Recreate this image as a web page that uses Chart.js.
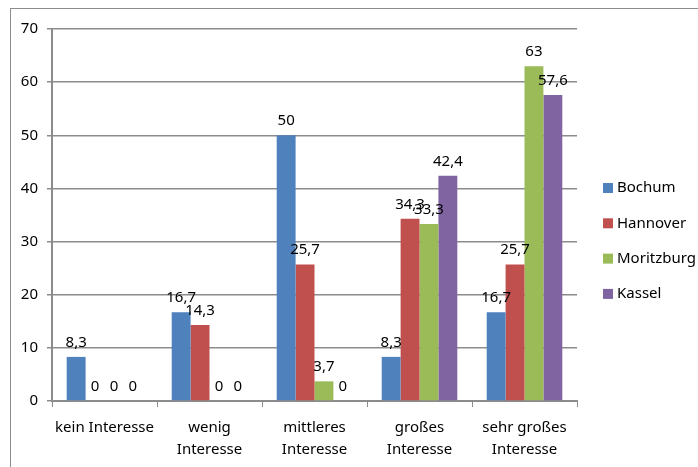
<!DOCTYPE html>
<html>
<head>
<meta charset="utf-8">
<script src="https://cdn.jsdelivr.net/npm/chart.js@4.4.0/dist/chart.umd.min.js"></script>
<style>
  html, body { margin: 0; padding: 0; background: #fff; }
  #wrap { position: relative; width: 698px; height: 467px; overflow: hidden; }
  #frame { position: absolute; left: 10px; top: 8px; width: 800px; height: 600px; border: 1px solid #8c8c8c; }
  #chart { position: absolute; left: 0; top: 0; }
</style>
</head>
<body>
<div id="wrap">
  <div id="frame"></div>
  <canvas id="chart" width="698" height="467"></canvas>
</div>
<script>
const categories = [
  "kein Interesse",
  ["wenig", "Interesse"],
  ["mittleres", "Interesse"],
  ["großes", "Interesse"],
  ["sehr großes", "Interesse"],
];
const bochum = [8.3, 16.7, 50, 8.3, 16.7];
const hannover = [0, 14.3, 25.7, 34.3, 25.7];
const moritzburg = [0, 0, 3.7, 33.3, 63];
const kassel = [0, 0, 0, 42.4, 57.6];
const yTicks = [0, 10, 20, 30, 40, 50, 60, 70];

const FONT = "'Noto Sans', sans-serif";
const gridColor = "#8c8c8c";

// value labels above each bar, German decimal comma
const valueLabels = {
  id: "valueLabels",
  afterDatasetsDraw(chart) {
    const ctx = chart.ctx;
    ctx.save();
    ctx.font = "15px " + FONT;
    ctx.fillStyle = "#000";
    ctx.textAlign = "center";
    ctx.textBaseline = "alphabetic";
    chart.data.datasets.forEach((ds, i) => {
      chart.getDatasetMeta(i).data.forEach((bar, j) => {
        const txt = String(ds.data[j]).replace(".", ",");
        ctx.fillText(txt, bar.x, bar.y - 10);
      });
    });
    ctx.restore();
  },
};

// legend on the right, drawn by hand to match spacing
const sideLegend = {
  id: "sideLegend",
  afterDraw(chart) {
    const ctx = chart.ctx;
    ctx.save();
    ctx.font = "15px " + FONT;
    ctx.textBaseline = "middle";
    chart.data.datasets.forEach((ds, i) => {
      const y = 188 + i * 35.3;
      ctx.fillStyle = ds.backgroundColor;
      ctx.fillRect(603, y - 5, 10, 10);
      ctx.fillStyle = "#000";
      ctx.fillText(ds.label, 617, y);
    });
    ctx.restore();
  },
};

new Chart(document.getElementById("chart").getContext("2d"), {
  type: "bar",
  data: {
    labels: categories,
    datasets: [
      { label: "Bochum", data: bochum, backgroundColor: "#4f81bd" },
      { label: "Hannover", data: hannover, backgroundColor: "#c0504d" },
      { label: "Moritzburg", data: moritzburg, backgroundColor: "#9bbb59" },
      { label: "Kassel", data: kassel, backgroundColor: "#8064a2" },
    ],
  },
  options: {
    responsive: false,
    animation: false,
    devicePixelRatio: 1,
    layout: { padding: { top: 29, right: 121, left: 0, bottom: 0 } },
    datasets: { bar: { categoryPercentage: 0.72, barPercentage: 1.0 } },
    plugins: {
      legend: { display: false },
      tooltip: { enabled: false },
    },
    scales: {
      x: {
        offset: true,
        grid: {
          offset: true,
          drawOnChartArea: false,
          drawTicks: true,
          tickLength: 6,
          color: gridColor,
        },
        border: { color: gridColor, width: 2 },
        ticks: {
          color: "#000",
          font: { family: FONT, size: 15, lineHeight: 1.47 },
          padding: 10,
          maxRotation: 0,
          autoSkip: false,
        },
        afterFit: (s) => { s.height = 66; },
      },
      y: {
        min: 0,
        max: 70,
        afterBuildTicks: (s) => { s.ticks = yTicks.map((v) => ({ value: v })); },
        grid: { color: gridColor, tickLength: 5, lineWidth: 1.5 },
        border: { color: gridColor, width: 2 },
        ticks: {
          color: "#000",
          font: { family: FONT, size: 15 },
          padding: 9,
        },
        afterFit: (s) => { s.width = 52; },
      },
    },
  },
  plugins: [valueLabels, sideLegend],
});
</script>
</body>
</html>
